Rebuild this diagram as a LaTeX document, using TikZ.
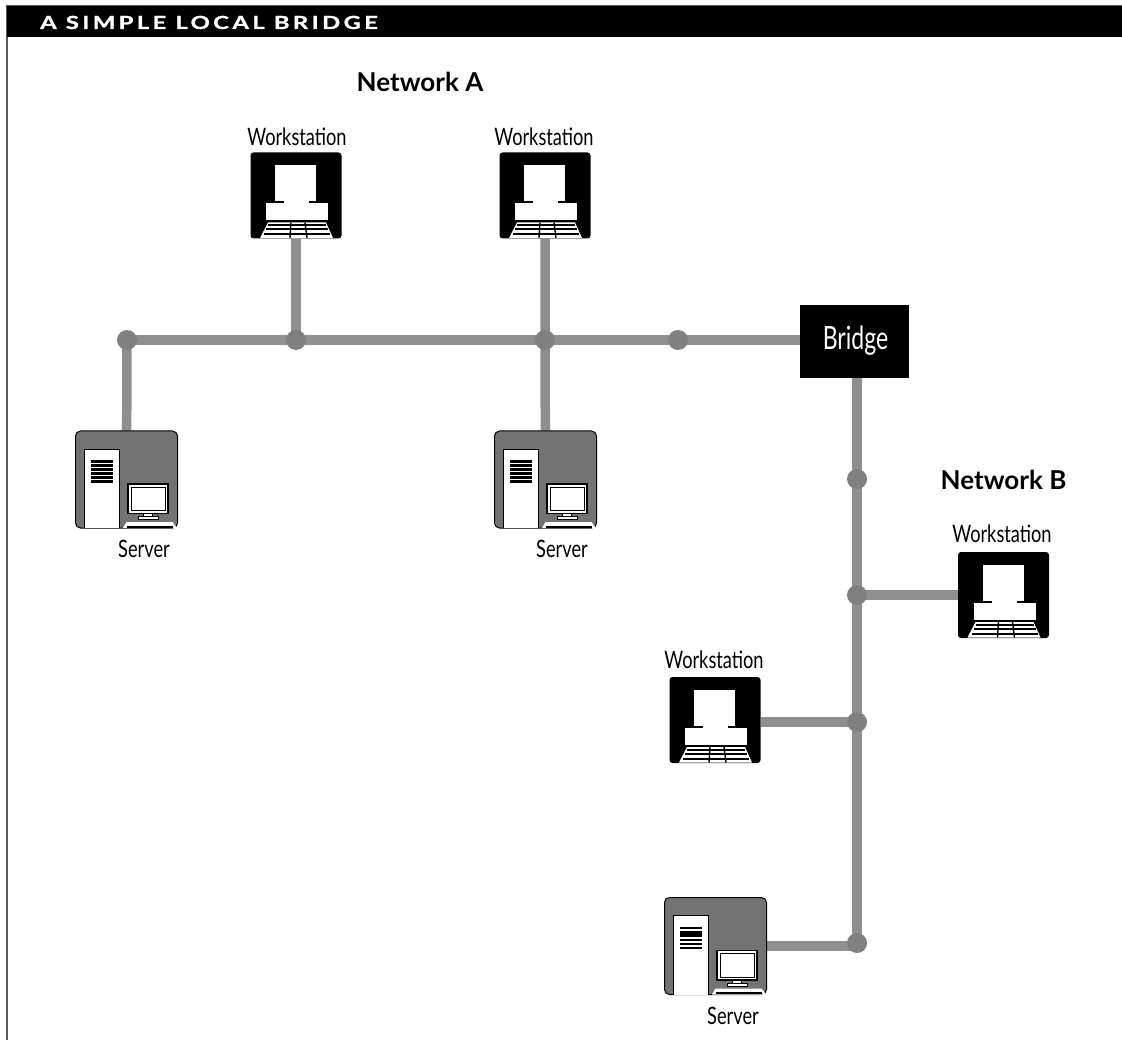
\documentclass[tikz,border=0pt]{standalone}
\usepackage{fontspec}
\setmainfont{Lato}
\newfontfamily\titlefont[LetterSpace=19,FakeStretch=1.32,FakeBold=1.5]{Lato}
\newfontfamily\labelfont[FakeStretch=0.76]{Lato}
\newfontfamily\bridgefont[FakeStretch=0.72]{Lato}
\usetikzlibrary{positioning,backgrounds}
\definecolor{linkColor}{gray}{0.56}
\definecolor{jointColor}{gray}{0.5}
\definecolor{serverColor}{gray}{0.45}
\definecolor{frameColor}{gray}{0.35}
\tikzset{
  link/.style={draw=linkColor,line width=9.5pt},
  joint/.style={circle,fill=jointColor,inner sep=0pt,minimum size=20pt},
  wsbox/.style={rectangle,rounded corners=3pt,fill=black,inner sep=0pt,minimum width=91pt,minimum height=86pt},
  srvbox/.style={rectangle,rounded corners=5pt,draw=black,line width=1pt,fill=serverColor,inner sep=0pt,minimum width=102pt,minimum height=97pt},
  devlabel/.style={inner sep=0pt,font=\labelfont\fontsize{24}{24}\selectfont},
  netlabel/.style={inner sep=0pt,font=\bfseries\fontsize{26}{26}\selectfont},
  wsinner/.pic={
    \path[fill=white] (-21,-30) rectangle (20,6);
    \path[fill=white] (-12,5) rectangle (13,8);
    \path[fill=white] (-30,8) rectangle (32,25);
    \path[fill=white] (-28,27) -- (30,27) -- (37,42.5) -- (-36,42.5) -- cycle;
    \path[draw=black,line width=2pt] (-28,30) -- (30,30);
    \path[draw=black,line width=2pt] (-30,34) -- (32,34);
    \path[draw=black,line width=2pt] (-32,38.5) -- (34,38.5);
    \path[draw=black,line width=1.4pt] (-5,27) -- (-6,42.5);
    \path[draw=black,line width=1.4pt] (9,27) -- (11,42.5);
  },
  srvinner/.pic={
    \path[fill=white,draw=black,line width=1pt] (-42.5,48.5) -- (-42.5,-30.5) -- (-7.5,-30.5) -- (-7.5,48.5);
    \path[fill=black] (-35.5,-19.5) rectangle (-13.5,-17);
    \path[fill=black] (-35.5,-15.5) rectangle (-13.5,-13);
    \path[fill=black] (-35.5,-11.5) rectangle (-13.5,-9);
    \path[fill=black] (-35.5,-7.5) rectangle (-13.5,-5);
    \path[fill=black] (-35.5,-3.5) rectangle (-13.5,-1);
    \path[fill=black] (-35.5,0.5) rectangle (-13.5,3);
    \path[fill=white,draw=black,line width=1.4pt] (1.5,4.5) rectangle (41.5,34);
    \path[fill=white,draw=black,line width=1pt] (4.5,7.5) rectangle (38.5,31);
    \path[fill=white,draw=black,line width=1pt] (17,34) rectangle (26,37);
    \path[fill=white,draw=black,line width=1pt] (11.5,37) rectangle (31.5,40);
    \path[fill=white] (-3.5,48.5) -- (0,42.5) -- (46,42.5) -- (50.5,48.5) -- cycle;
    \path[fill=black] (0,46) rectangle (46,48);
  },
  srvbar/.pic={
    \path[fill=black] (-35.5,-15.5) rectangle (-13.5,-9.5);
  }
}
\begin{document}
\begin{tikzpicture}[x=1pt,y=-1pt]
\path[use as bounding box] (0,0) rectangle (1122,1040);

% heading
\path[draw=frameColor,line width=1.4pt] (7,1040) -- (7,6) -- (1122,6);
\path[fill=black] (7,6) rectangle (1122,37);
\node[text=white,anchor=base west,inner sep=0pt,font=\titlefont\bfseries\fontsize{18}{18}\selectfont] (title) at (40,29) {A SIMPLE LOCAL BRIDGE};

% joints
\node[joint] (jA1) at (127,340) {};
\node[joint] (jA2) at (296,340) {};
\node[joint] (jA3) at (545,340) {};
\node[joint] (jA4) at (678,340) {};
\node[joint] (jB1) at (857,479) {};
\node[joint] (jB2) at (857,595) {};
\node[joint] (jB3) at (857,722) {};
\node[joint] (jB4) at (857,943) {};

% devices
\node[wsbox] (wsA1) at (296,195.5) {};
\node[wsbox] (wsA2) at (545,195.5) {};
\node[wsbox] (wsB1) at (1003.5,595) {};
\node[wsbox] (wsB2) at (715,720) {};
\node[srvbox] (srvA1) at (126.5,479.5) {};
\node[srvbox] (srvA2) at (545.5,479.5) {};
\node[srvbox] (srvB1) at (715.5,946) {};
\node[rectangle,fill=black,inner sep=0pt,minimum width=109pt,minimum height=73pt] (bridge) at (854.5,341.5) {};
\node[text=white,inner sep=0pt,font=\bridgefont\fontsize{32}{32}\selectfont] (bridgetext) at (855.5,341) {Bridge};

% links
\begin{scope}[on background layer]
\path[fill=white] (0,0) rectangle (1122,1040);
\draw[link] (jA1.center) -- (jA4.center) -- (jA4.center -| bridge.west);
\draw[link] (jA1.center) -- (srvA1);
\draw[link] (jA2.center) -- (wsA1);
\draw[link] (wsA2) -- (jA3.center) -- (srvA2);
\draw[link] (jB1 |- bridge.south) -- (jB4.center);
\draw[link] (jB2.center) -- (jB2.center -| wsB1.west);
\draw[link] (jB3.center) -- (jB3.center -| wsB2.east);
\draw[link] (srvB1.east) -- (srvB1.east -| jB4);
\end{scope}

% device insides
\pic at (wsA1) {wsinner};
\pic at (wsA2) {wsinner};
\pic at (wsB1) {wsinner};
\pic at (wsB2) {wsinner};
\pic at (srvA1) {srvinner};
\pic at (srvA2) {srvinner};
\pic at (srvB1) {srvinner};
\pic at (srvB1) {srvbar};

% labels
\node[netlabel] (netA) at (420,82) {Network A};
\node[netlabel] (netB) at (1003.5,480) {Network B};
\node[devlabel] (lblA1) at (297,137) {Workstation};
\node[devlabel] (lblA2) at (544,137) {Workstation};
\node[devlabel] (lblB1) at (1002,534) {Workstation};
\node[devlabel] (lblB2) at (714,660) {Workstation};
\node[devlabel] (lblS1) at (144,549) {Server};
\node[devlabel] (lblS2) at (562,549) {Server};
\node[devlabel] (lblS3) at (733,1016) {Server};
\end{tikzpicture}
\end{document}
